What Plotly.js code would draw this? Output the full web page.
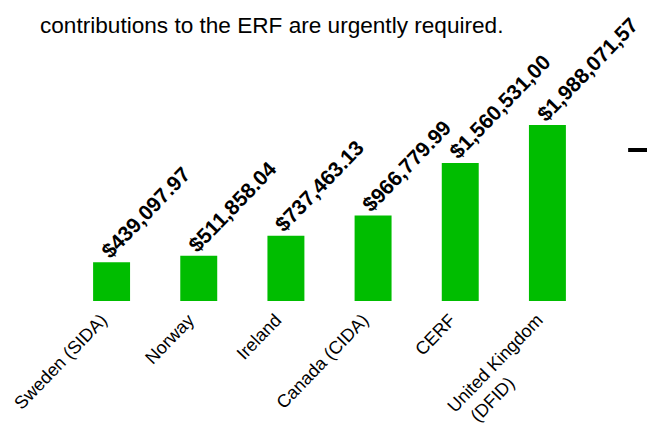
<!DOCTYPE html>
<html>
<head>
<meta charset="utf-8">
<script src="https://cdn.plot.ly/plotly-3.0.1.min.js"></script>
<style>html,body{margin:0;padding:0;background:#fff;}#chart{width:647px;height:429px;}</style>
</head>
<body>
<div id="chart"></div>
<script>
var categories = ["Sweden (SIDA)", "Norway", "Ireland", "Canada (CIDA)", "CERF", "United Kingdom (DFID)"];
var tickLabels = ["Sweden (SIDA)", "Norway", "Ireland", "Canada (CIDA)", "CERF",
  "United Kingdom<br>(DFID)\u00a0\u00a0\u00a0\u00a0\u00a0\u00a0\u00a0\u00a0\u00a0\u00a0\u00a0\u00a0\u00a0"];
var values = [439097.97, 511858.04, 737463.13, 966779.99, 1560531.00, 1988071.57];
var valueLabels = ["$439,097.97", "$511,858.04", "$737,463.13", "$966,779.99", "$1,560,531,00", "$1,988,071,57"];
var titleText = "contributions to the ERF are urgently required.";

var FONT = "Liberation Sans, Arial, Helvetica, sans-serif";

var trace = {
  type: "bar",
  x: categories,
  y: values,
  marker: {color: "#00bd00"},
  hoverinfo: "skip"
};

var annotations = categories.map(function (c, i) {
  return {
    x: c, y: values[i], xref: "x", yref: "y",
    text: valueLabels[i], showarrow: false,
    textangle: -46, xanchor: "left", yanchor: "bottom",
    xshift: -18, yshift: -3,
    font: {family: FONT, size: 21, color: "#000", weight: "bold"}
  };
});

var layout = {
  width: 647, height: 429,
  margin: {l: 68, r: 56, t: 40, b: 128, autoexpand: false},
  paper_bgcolor: "#fff", plot_bgcolor: "#fff",
  showlegend: false,
  bargap: 0.576,
  title: {
    text: titleText,
    x: 40/647, xref: "container", xanchor: "left",
    y: 1 - 25/429, yref: "container", yanchor: "middle",
    font: {family: FONT, size: 22.6, color: "#000"}
  },
  xaxis: {
    type: "category",
    range: [-0.5, categories.length - 0.5], autorange: false,
    tickvals: categories, ticktext: tickLabels,
    showline: false, showgrid: false, zeroline: false, ticks: "",
    tickangle: -46, ticklabelstandoff: 4, ticklabelshift: -10, automargin: false,
    tickfont: {family: FONT, size: 18, color: "#000"}
  },
  yaxis: {visible: false, range: [0, 2950000], autorange: false, fixedrange: true},
  annotations: annotations,
  shapes: [{type: "line", xref: "paper", yref: "paper", x0: 1.071, x1: 1.11, y0: 0.5785, y1: 0.5785,
    line: {color: "#000", width: 4}}]
};

Plotly.newPlot("chart", [trace], layout, {staticPlot: true, displayModeBar: false});
</script>
</body>
</html>
